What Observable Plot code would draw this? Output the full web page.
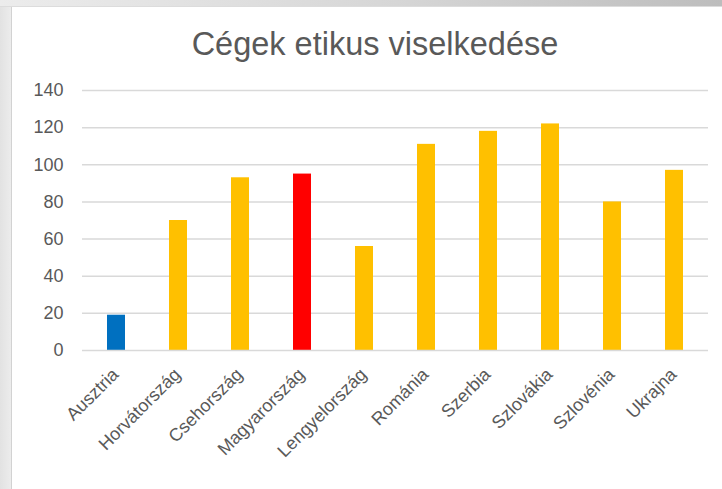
<!DOCTYPE html>
<html>
<head>
<meta charset="utf-8">
<script src="https://cdn.jsdelivr.net/npm/d3@7"></script>
<script src="https://cdn.jsdelivr.net/npm/@observablehq/plot@0.6"></script>
<style>
  html, body { margin: 0; padding: 0; }
  body { width: 722px; height: 489px; position: relative; overflow: hidden; background: #e6e6e6; font-family: "Liberation Sans", Arial, sans-serif; }
  #topband { position: absolute; left: 0; top: 0; width: 722px; height: 6px; background: linear-gradient(to right, #ececec, #d6d6d6 55%, #bdbdbd); border-bottom: 1px solid #dcdcdc; }
  #leftstrip { position: absolute; left: 0; top: 7px; width: 11px; height: 482px; background: linear-gradient(to right, #e2e2e2, #ececec); border-right: 1px solid #d2d2d2; }
  #panel { position: absolute; left: 12px; top: 7px; width: 710px; height: 482px; background: #ffffff; }
  #title { position: absolute; left: 12px; top: 24px; width: 726px; text-align: center; font-size: 32.5px; color: #595959; line-height: 40px; }
  #chart { position: absolute; left: 0; top: 69px; }
  #chart svg text { font-size: 18px !important; }
</style>
</head>
<body>
<div id="topband"></div>
<div id="leftstrip"></div>
<div id="panel"></div>
<div id="title">Cégek etikus viselkedése</div>
<div id="chart"></div>
<script>
const countries = ["Ausztria", "Horvátország", "Csehország", "Magyarország", "Lengyelország", "Románia", "Szerbia", "Szlovákia", "Szlovénia", "Ukrajna"];
const values = [19, 70, 93, 95, 56, 111, 118, 122, 80, 97];
const barColors = ["#0070C0", "#FFC000", "#FFC000", "#FF0000", "#FFC000", "#FFC000", "#FFC000", "#FFC000", "#FFC000", "#FFC000"];
const yTicks = [0, 20, 40, 60, 80, 100, 120, 140];

const data = countries.map((c, i) => ({country: c, value: values[i], color: barColors[i]}));

const chart = Plot.plot({
  width: 722,
  height: 420,
  marginLeft: 82,
  marginRight: 14,
  marginTop: 21,
  marginBottom: 139,
  style: {fontFamily: "'Liberation Sans', Arial, sans-serif", fontSize: "18px", color: "#595959", background: "transparent"},
  x: {domain: countries, paddingInner: 0.71, paddingOuter: 0.355, label: null},
  y: {domain: [0, 140], label: null},
  color: {type: "identity"},
  marks: [
    Plot.ruleY(yTicks.filter(d => d > 0), {stroke: "#d9d9d9", strokeWidth: 1.5}),
    Plot.barY(data, {x: "country", y: "value", fill: "color"}),
    Plot.ruleY([0], {stroke: "#d9d9d9", strokeWidth: 1.5}),
    Plot.axisY({ticks: yTicks, tickSize: 0, tickPadding: 19, label: null, fill: "#595959"}),
    Plot.axisX({tickSize: 0, tickPadding: 21, tickRotate: -45, label: null, fill: "#595959", dx: -1})
  ]
});
document.getElementById("chart").appendChild(chart);
</script>
</body>
</html>
